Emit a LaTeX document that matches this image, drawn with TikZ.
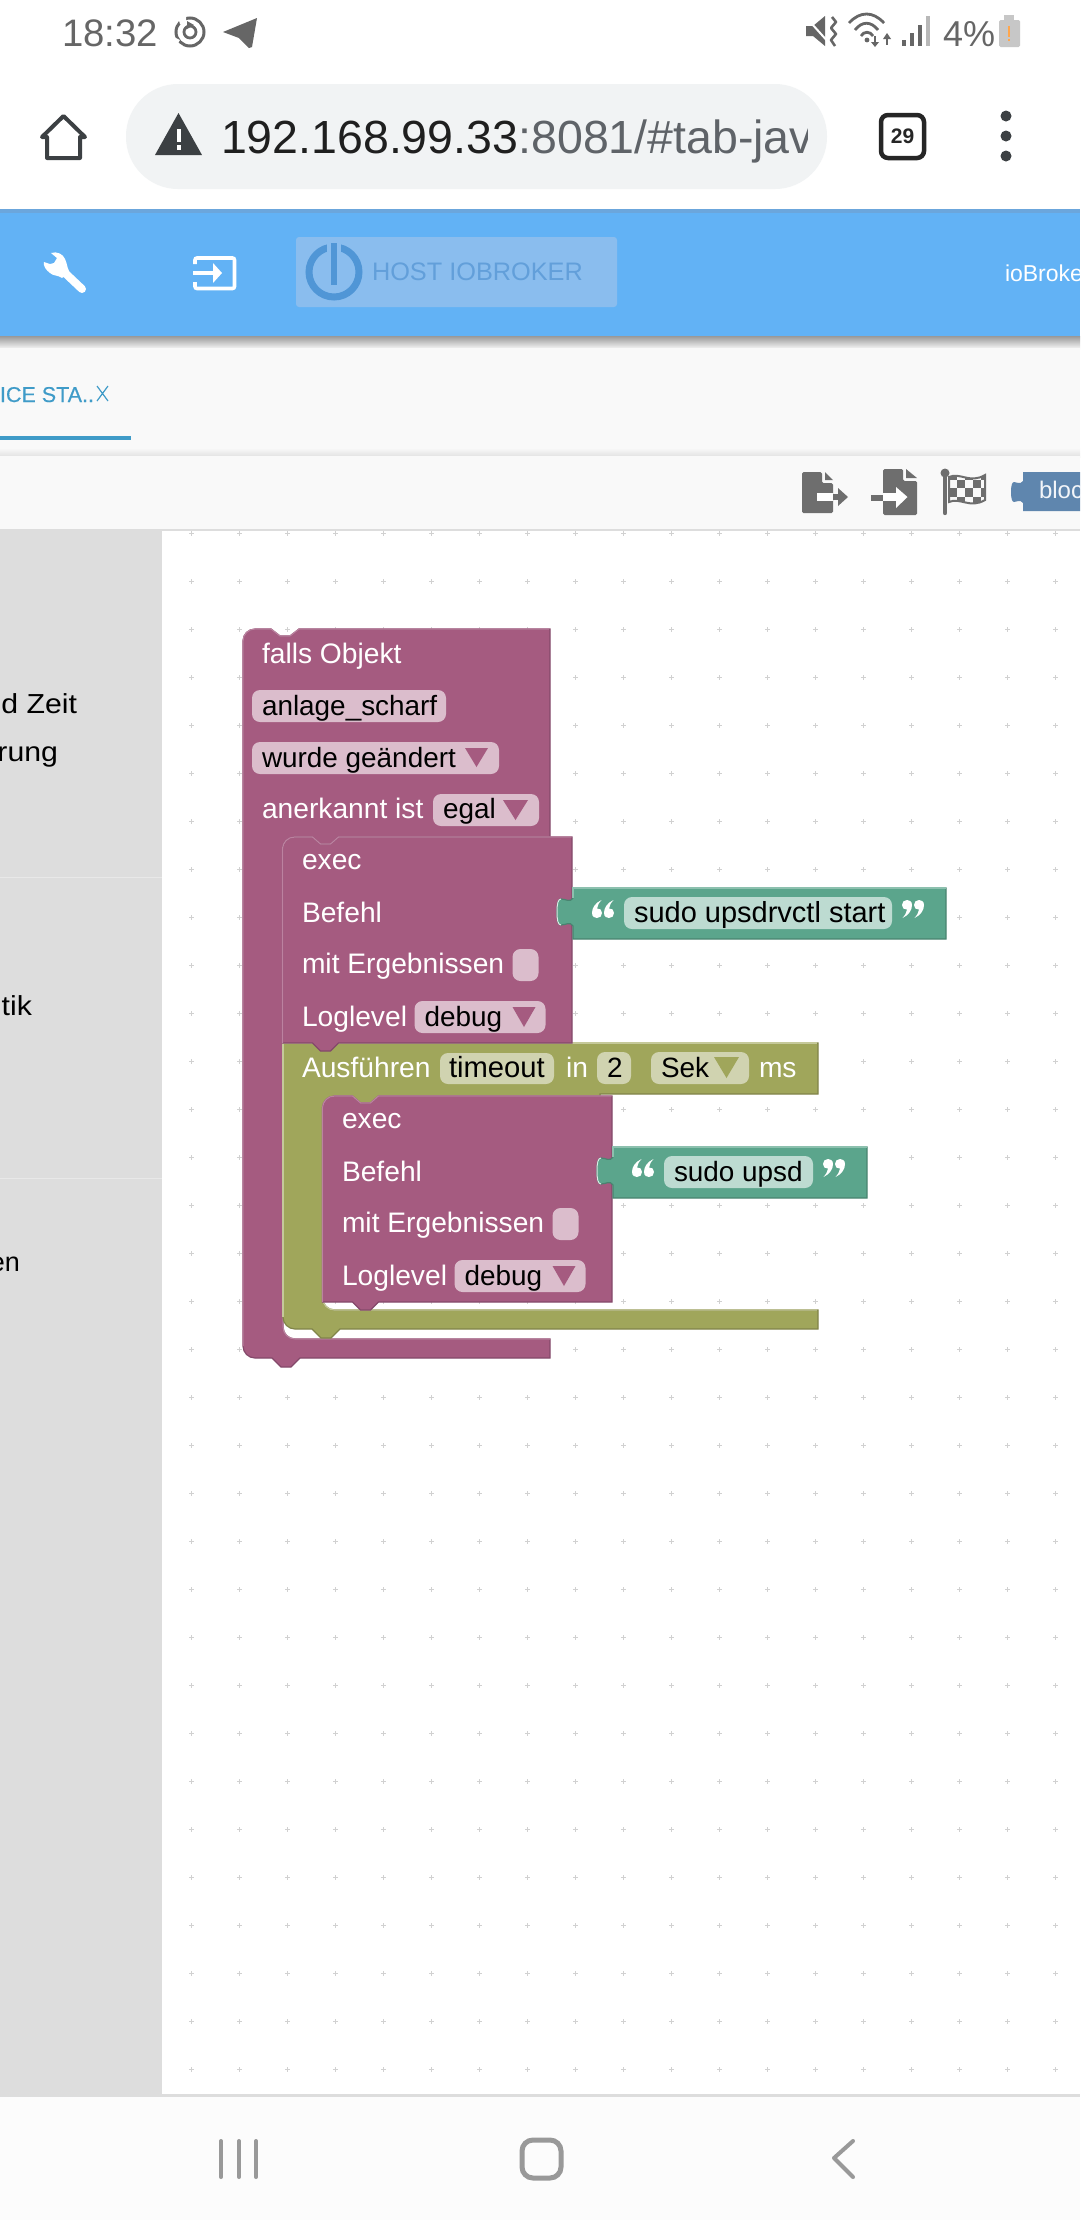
\documentclass[tikz,border=0pt]{standalone}
\usepackage{fontspec}
\setmainfont{Liberation Sans}
\newfontfamily\sidef[FakeStretch=1.1]{Liberation Sans}
\newfontfamily\tabf[FakeBold=0.35]{Liberation Sans}
\newcommand{\fsz}[1]{\fontsize{#1}{#1}\selectfont}
\definecolor{pur}{HTML}{A55B80}\definecolor{purd}{HTML}{84496A}\definecolor{purl}{HTML}{BC82A0}\definecolor{purf}{HTML}{DBBDCC}
\definecolor{oli}{HTML}{A0A65B}\definecolor{olid}{HTML}{808449}\definecolor{olil}{HTML}{C5C99A}\definecolor{olif}{HTML}{D0D3B0}
\definecolor{grn}{HTML}{5BA58C}\definecolor{grnd}{HTML}{498470}\definecolor{grnl}{HTML}{8CC0AE}\definecolor{grnf}{HTML}{BDDBD1}
\definecolor{sbar}{HTML}{DDDDDD}\definecolor{stat}{HTML}{666666}\definecolor{adr}{HTML}{F1F3F4}\definecolor{chr}{HTML}{3C4043}\definecolor{adrg}{HTML}{5F6368}
\definecolor{blu}{HTML}{62B2F5}\definecolor{blud}{HTML}{6BA6DC}\definecolor{logob}{HTML}{8ABDEE}\definecolor{logoi}{HTML}{5096D6}\definecolor{logot}{HTML}{629FDA}
\definecolor{tabc}{HTML}{3F9BC8}\definecolor{pane}{HTML}{F9F9F9}\definecolor{tool}{HTML}{6E6E6E}\definecolor{blk}{HTML}{5F86AE}\definecolor{nav}{HTML}{999999}
\tikzset{
 txt/.style={inner sep=0pt,outer sep=0pt,anchor=base west},
 lbl/.style={txt,text=white,font=\fsz{28.2}},
 val/.style={txt,text=black,font=\fsz{27.9}},
 side/.style={inner sep=0pt,outer sep=0pt,anchor=base east,text=black,font=\sidef\fsz{27.5}},
 griddot/.style={draw=black!18,line width=0.9pt},
 navline/.style={draw=nav,line width=4pt,line cap=round},
}
\newcommand{\fieldbox}[5]{\fill[#5,rounded corners=8pt] (#1,#2) rectangle (#3,#4);}
\newcommand{\tri}[5]{\fill[#5] (#1,#2) -- (#3,#2) -- ({(#1+#3)/2},#4) -- cycle;}
\newcommand{\qmarks}{%
 \fill[white] (9.5,0) .. controls (3,3) and (0,8) .. (0,13) .. controls (0,17) and (3,18) .. (5,18) .. controls (8,18) and (10,16) .. (10,13) .. controls (10,10) and (8,8) .. (5,8.5) .. controls (5.5,5) and (7,3) .. (9.5,0) -- cycle;
 \fill[white,shift={(12,0)}] (9.5,0) .. controls (3,3) and (0,8) .. (0,13) .. controls (0,17) and (3,18) .. (5,18) .. controls (8,18) and (10,16) .. (10,13) .. controls (10,10) and (8,8) .. (5,8.5) .. controls (5.5,5) and (7,3) .. (9.5,0) -- cycle;}
% exec block: name prefix, x, y
\newcommand{\execblock}[3]{%
 \begin{scope}[shift={(#2,#3)}]
 \draw[fill=pur,draw=purd,line width=1.2pt] (0,12) .. controls (0,5.4) and (5.4,0) .. (12,0) -- (30,0) -- (38,7) -- (48,7) -- (56,0) -- (289.5,0) -- (289.5,206) -- (56,206) -- (48,214) -- (38,214) -- (30,206) -- (0,206) -- cycle;
 \draw[purl,line width=1.2pt] (0,206) -- (0,12) .. controls (0,5.4) and (5.4,0) .. (12,0) -- (30,0) -- (38,7) -- (48,7) -- (56,0) -- (289,0);
 \node[lbl] (#1exec) at (19.5,32) {exec};
 \node[lbl] (#1bef) at (19.5,85) {Befehl};
 \node[lbl] (#1mit) at (19.5,136) {mit Ergebnissen};
 \node[lbl] (#1log) at (19.5,189) {Loglevel};
 \fieldbox{230}{112}{256}{144}{purf}
 \fieldbox{132}{164}{263}{196}{purf}
 \node[val] (#1dbg) at (142,189) {debug};
 \tri{230}{170}{253}{190}{pur}
 \end{scope}}
% string block: prefix, x, y, width, field width, text
\newcommand{\strblock}[5]{%
 \begin{scope}[shift={(#2,#3)}]
 \draw[fill=grn,draw=grnd,line width=1.2pt] (0,0) -- (#4,0) -- (#4,51) -- (0,51) -- (0,38) .. controls (-3,33) and (-7,37) .. (-12,37) .. controls (-15,37) and (-16,32) .. (-16,24) .. controls (-16,16) and (-15,11) .. (-12,11) .. controls (-7,11) and (-3,15) .. (0,10) -- cycle;
 \draw[grnl,line width=1.2pt] (0,10) -- (0,0) -- (#4,0);
 \draw[white!80!grn,line width=1pt] (-12,37) .. controls (-15,37) and (-16,32) .. (-16,24) .. controls (-16,16) and (-15,11) .. (-12,11);
 \begin{scope}[shift={(19,12)}]\qmarks\end{scope}
 \fieldbox{51}{9}{\numexpr51+#5\relax}{41}{grnf}
 \node[val,font=\fsz{\strsize}] (#1txt) at (61,34) {\strcontent};
 \begin{scope}[shift={(\numexpr51+#5+10+22\relax,30)},rotate=180]\qmarks\end{scope}
 \end{scope}}
\begin{document}
\begin{tikzpicture}[x=1pt,y=-1pt]
\useasboundingbox (0,0) rectangle (1080,2220);
\fill[white] (0,0) rectangle (1080,2220);
% status bar
\node[txt,text=stat,font=\fsz{38.3}] (clock) at (62,46) {18:32};
\draw[stat,line width=3pt] (190,32) circle[radius=14pt];
\draw[stat,line width=2.8pt] (190,32) circle[radius=6pt];
\fill[white] (172,36) -- (180,40) -- (176,46) -- (170,42) -- cycle;
\fill[white] (178,17) -- (186,17) -- (186,23) -- (180,24) -- cycle;
\fill[stat] (187,21) -- (194,25) -- (187,29) -- cycle;
\fill[stat] (257,18) -- (223,32) -- (239,38) -- (249,48) -- (252,47) -- cycle;
\fill[stat] (806,26) -- (813,26) -- (825,16) -- (825,46) -- (813,36) -- (806,36) -- cycle;
\draw[white,line width=2pt] (803,14) -- (830,44);
\draw[stat,line width=2.6pt,line join=round] (832,17) -- (836,22) -- (831,28) -- (836,34) -- (831,40) -- (835,46);
\draw[stat,line width=2.8pt] (849,23) .. controls (860,11) and (873,11) .. (884,23);
\draw[stat,line width=2.8pt] (855,30) .. controls (862,21) and (871,21) .. (878,30);
\draw[stat,line width=2.8pt] (861,36) .. controls (864,31) and (870,31) .. (873,36);
\fill[stat] (867,40) circle[radius=2.4pt];
\draw[stat,line width=1.8pt] (875,36) -- (875,43);\fill[stat] (871,42) -- (879,42) -- (875,47) -- cycle;
\draw[stat,line width=1.8pt] (887,38) -- (887,45);\fill[stat] (883,39) -- (891,39) -- (887,33) -- cycle;
\fill[stat] (902,40) rectangle (905.5,46);
\fill[stat] (910,33) rectangle (913.5,46);
\fill[stat] (918,25) rectangle (921.5,46);
\fill[black!28] (926,16) rectangle (929.5,46);
\node[txt,text=stat,font=\fsz{36}] (batt) at (943,46) {4\%};
\fill[black!22,rounded corners=1.5pt] (999,20) rectangle (1020,47);
\fill[black!22] (1004,15) rectangle (1014,21);
\fill[orange!70] (1008,26) rectangle (1010,37);\fill[orange!70] (1008,38.5) rectangle (1010,41);
% address bar
\draw[chr,line width=4pt,line join=round] (63.5,116) -- (85,137) -- (80,137) -- (80,158) -- (47,158) -- (47,137) -- (42,137) -- cycle;
\fill[adr,rounded corners=52pt] (126,84) rectangle (827,189);
\fill[chr] (178.5,113) -- (202,155) -- (155,155) -- cycle;
\fill[white] (176.5,129) rectangle (180.5,142);\fill[white] (176.5,145) rectangle (180.5,150);
\begin{scope}
\clip (200,90) rectangle (807,185);
\node[txt,font=\fsz{46.5},text=adrg] (url) at (221,153) {\textcolor{black!88}{192.168.99.33}:8081/\#tab-jav};
\end{scope}
\draw[black!85,line width=4.5pt,rounded corners=7pt] (881,115) rectangle (924,158);
\node[inner sep=0pt,font=\bfseries\fsz{21},text=black!85] (tabs) at (902.5,136) {29};
\foreach \yy in {116,136,156} \fill[chr] (1006,\yy) circle[radius=5.5pt];
% blue header
\fill[blud] (0,209) rectangle (1080,217);
\fill[blu] (0,213) rectangle (1080,336);
\shade[top color=black!40,bottom color=pane] (0,336) rectangle (1080,349);
\fill[pane] (0,348) rectangle (1080,455);
\shade[top color=pane,bottom color=black!12] (0,448) rectangle (1080,457);
\fill[pane] (0,456) rectangle (1080,529);
\fill[sbar] (0,529) rectangle (1080,531);
% wrench
\draw[white,line width=8pt,line cap=round] (64,272) -- (82,289);
\fill[white] (51,253) .. controls (57,251) and (63,254) .. (65,259) .. controls (67,263) and (67,267) .. (69,271) -- (62,278) .. controls (58,275) and (53,276) .. (50,273) .. controls (46,270) and (43,266) .. (44,262) -- (50,264) -- (54,263) -- (57,258) -- cycle;
% login icon
\draw[white,line width=3.6pt,rounded corners=2pt] (195,264) -- (195,258) -- (234.5,258) -- (234.5,288.5) -- (195,288.5) -- (195,282);
\draw[white,line width=3.4pt] (193,273) -- (214,273);
\fill[white] (213,263) -- (222,273) -- (213,283) -- cycle;
% logo
\fill[logob,rounded corners=3pt] (296,237) rectangle (617,307);
\draw[logoi,line width=7pt] (334,272) circle[radius=25pt];
\fill[logob] (327,240) rectangle (341,288);
\fill[logoi] (331,243) rectangle (337,285);
\node[txt,font=\fsz{25.3},text=logot] (host) at (372,280) {HOST IOBROKER};
\node[txt,font=\fsz{23},text=white] (usr) at (1005,281) {ioBroke};
% tab
\node[txt,font=\tabf\fsz{21.5},text=tabc] (tabt) at (0,402) {ICE STA..};
\draw[tabc,line width=1.2pt] (97,386) -- (108,401) (108,386) -- (97,401);
\fill[tabc] (0,436) rectangle (131,440);
% toolbar icons
\fill[tool,rounded corners=1.5pt] (802,472) -- (822,472) -- (822,483) -- (833,483) -- (833,513) -- (802,513) -- cycle;
\fill[tool] (825,472) -- (833,480) -- (825,480) -- cycle;
\fill[white] (817,493) rectangle (833,501);
\fill[tool] (833,494) rectangle (839,500);
\fill[tool] (838,488) -- (848,497) -- (838,506) -- cycle;
\fill[tool,rounded corners=1.5pt] (883,469) -- (903,469) -- (903,481) -- (917,481) -- (917,515) -- (883,515) -- cycle;
\fill[tool] (906,469) -- (917,478) -- (906,478) -- cycle;
\fill[tool] (871,494.5) rectangle (883,500.5);
\fill[white] (883,493) rectangle (897,501);
\fill[white] (896,487) -- (907.5,497) -- (896,508) -- cycle;
\draw[tool,line width=4.4pt,line cap=round] (945,472) -- (945,513);
\fill[tool] (945,473) circle[radius=4.5pt];
\draw[tool,line width=2pt] (949,477) .. controls (960,472) and (970,484) .. (985,475) -- (985,500) .. controls (970,509) and (960,497) .. (949,502) -- cycle;
\begin{scope}
\clip (949,477) .. controls (960,472) and (970,484) .. (985,475) -- (985,500) .. controls (970,509) and (960,497) .. (949,502) -- cycle;
\foreach \cx in {0,1,2,3,4} \foreach \cy in {0,1,2,3,4}{%
 \pgfmathparse{int(mod(\cx+\cy,2))}
 \ifnum\pgfmathresult=0 \fill[tool] ({949+\cx*8},{471+\cy*8.5}) rectangle ++(8,8.5);\fi}
\end{scope}
\fill[blk] (1023,472) -- (1080,472) -- (1080,511) -- (1023,511) -- (1023,503) .. controls (1020,499) and (1017,502) .. (1014,502) .. controls (1012,502) and (1011,498) .. (1011,492) .. controls (1011,486) and (1012,482) .. (1014,482) .. controls (1017,482) and (1020,485) .. (1023,481) -- cycle;
\node[txt,font=\fsz{24},text=white!92!blk] (blkt) at (1039,498) {bloc};
% sidebar
\fill[sbar] (0,529) rectangle (162,2094);
\draw[black!9,line width=0.8pt] (0,877) -- (162,877) (0,1178) -- (162,1178);
\node[side] (s1) at (77,713) {d Zeit};
\node[side] (s2) at (58,761) {rung};
\node[side] (s3) at (32,1015) {tik};
\node[side,font=\fsz{27}] (s4) at (20,1271) {en};
\fill[sbar] (162,2094) rectangle (1080,2097);
\fill[sbar] (0,2094) rectangle (162,2097);
% grid
\foreach \i in {0,...,18} \foreach \j in {0,...,32}{%
 \draw[griddot] ({191.7+48*\i-2.5},{533.7+48*\j}) -- ++(5,0) ({191.7+48*\i},{533.7+48*\j-2.5}) -- ++(0,5);}
% nav bar
\fill[black!1] (0,2097) rectangle (1080,2220);
\draw[navline] (221,2141) -- (221,2177) (239,2141) -- (239,2177) (256,2141) -- (256,2177);
\draw[nav,line width=5pt,rounded corners=11pt] (522,2140) rectangle (561,2178);
\draw[navline,line join=round] (853,2141) -- (834,2158) -- (853,2177);
% purple outer block
\draw[fill=pur,draw=purd,line width=1.2pt] (243,641) .. controls (243,634.4) and (248.4,629) .. (255,629) -- (271,629) -- (280,636) -- (290,636) -- (299,629) -- (550,629) -- (550,850) -- (283,850) -- (283,1327) .. controls (283,1333.6) and (288.4,1339) .. (295,1339) -- (550,1339) -- (550,1358) -- (300,1358) -- (291,1367) -- (281,1367) -- (272,1358) -- (255,1358) .. controls (248.4,1358) and (243,1352.6) .. (243,1346) -- cycle;
\draw[purl,line width=1.2pt] (243,1346) -- (243,641) .. controls (243,634.4) and (248.4,629) .. (255,629) -- (271,629) -- (280,636) -- (290,636) -- (299,629) -- (549,629);
\draw[purl,line width=1.2pt] (550,1339) -- (295,1339) .. controls (288.4,1339) and (283,1333.6) .. (283,1327) -- (283,1043);
\node[lbl] (falls) at (262,663) {falls Objekt};
\fieldbox{252}{690}{446}{722}{purf}
\node[val] (anl) at (262,715) {anlage\_scharf};
\fieldbox{252}{742}{499}{774}{purf}
\node[val] (wur) at (262,767) {wurde geändert};
\tri{465}{748}{488}{767}{pur}
\node[lbl] (ane) at (262,818) {anerkannt ist};
\fieldbox{433}{794}{539}{826}{purf}
\node[val] (ega) at (443,818) {egal};
\tri{503}{800}{528}{820}{pur}
% olive block
\draw[fill=oli,draw=olid,line width=1.2pt] (283,1043) -- (818,1043) -- (818,1094) -- (600,1094) -- (600,1108) -- (322.5,1108) -- (322.5,1298) .. controls (322.5,1304.6) and (327.9,1310) .. (334.5,1310) -- (818,1310) -- (818,1329) -- (340,1329) -- (331,1338) -- (321,1338) -- (312,1329) -- (295,1329) .. controls (288.4,1329) and (283,1323.6) .. (283,1317) -- cycle;
\draw[olil,line width=1.2pt] (283,1317) -- (283,1043) -- (817,1043);
\draw[olil,line width=1.2pt] (817,1310) -- (334.5,1310) .. controls (327.9,1310) and (322.5,1304.6) .. (322.5,1298) -- (322.5,1108);
\node[lbl] (aus) at (302,1077) {Ausführen};
\fieldbox{440}{1053}{554}{1084}{olif}
\node[val,font=\fsz{29.2}] (tim) at (449,1077) {timeout};
\node[lbl] (inn) at (566,1077) {in};
\fieldbox{597}{1052}{631}{1084}{olif}
\node[val] (two) at (607,1077) {2};
\fieldbox{651}{1052}{749}{1084}{olif}
\node[val] (sek) at (661,1077) {Sek};
\tri{714}{1057}{739}{1078}{oli}
\node[lbl] (ms) at (759,1077) {ms};
% exec blocks
\execblock{a}{322.5}{1096}
\execblock{b}{282.5}{837}
% strings
\def\strcontent{sudo upsdrvctl start}\def\strsize{29}
\strblock{c}{573}{888}{373}{268}
\def\strcontent{sudo upsd}\def\strsize{27.9}
\strblock{d}{613}{1147}{254}{149}
\end{tikzpicture}
\end{document}
